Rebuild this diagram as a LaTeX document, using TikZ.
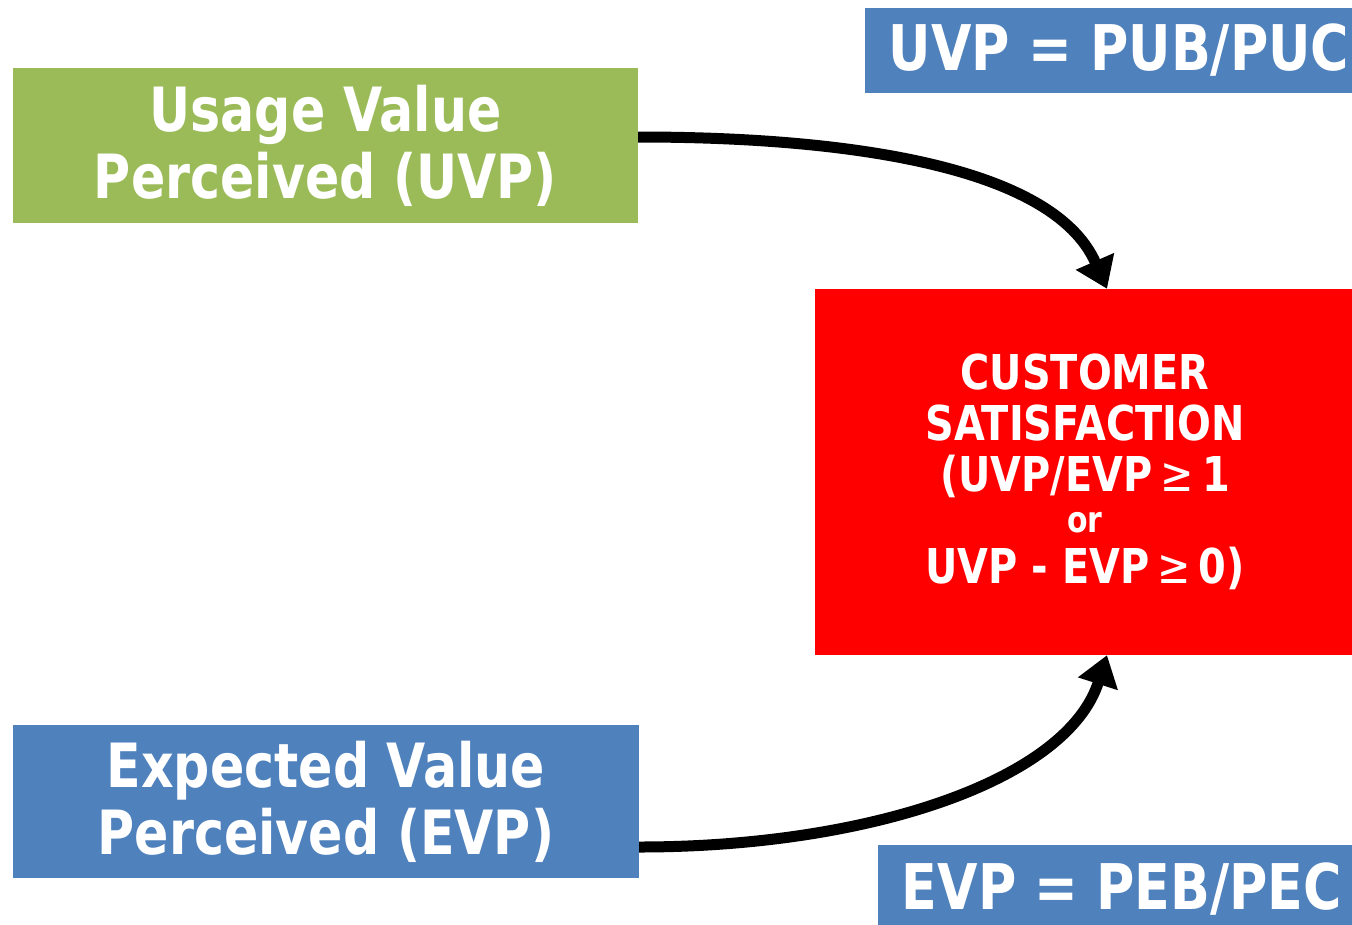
\documentclass[tikz,border=0pt]{standalone}
\usepackage{fontspec}
\usetikzlibrary{arrows.meta}
\newfontfamily\boxfont{DejaVu Sans}[FakeStretch=0.83]
\definecolor{usagegreen}{HTML}{9BBB59}
\definecolor{officeblue}{HTML}{4F81BD}
\definecolor{satred}{HTML}{FF0000}
\tikzset{
  panel/.style={inner sep=0pt, text=white, align=center,
    font=\boxfont\bfseries\fontsize{61}{67}\selectfont},
  formula/.style={panel, fill=officeblue,
    font=\boxfont\bfseries\fontsize{63}{67}\selectfont},
  flowarrow/.style={line width=11pt, -{Triangle[length=30pt,width=40pt]}}
}
\begin{document}
\begin{tikzpicture}[x=1pt,y=-1pt]
  \useasboundingbox (0,0) rectangle (1352,924);
  \clip (0,0) rectangle (1352,924);

  % input boxes on the left
  \node[panel, fill=usagegreen, minimum width=625pt, minimum height=155pt]
    (uvp) at (325.5,145.5) {Usage Value\\Perceived (UVP)};
  \node[panel, fill=officeblue, minimum width=626pt, minimum height=153pt]
    (evp) at (326,801.5) {Expected Value\\Perceived (EVP)};

  % formula boxes running off the right edge
  \node[formula, minimum width=508pt, minimum height=85pt]
    (uvpdef) at (1119,50.5) {UVP = PUB/PUC};
  \node[formula, minimum width=488pt, minimum height=88pt]
    (evpdef) at (1122,889) {EVP = PEB/PEC};

  % result box
  \node[panel, fill=satred, minimum width=540pt, minimum height=366pt,
        font=\boxfont\bfseries\fontsize{48}{51}\selectfont]
    (cs) at (1085,472)
    {CUSTOMER\\SATISFACTION\\(UVP/EVP\,{\mdseries ≥}\,1\\[-10pt]
     {\fontsize{36}{40}\selectfont or}\\
     UVP - EVP\,{\mdseries ≥}\,0)};

  % curved connectors
  \draw[flowarrow] ([yshift=8.5pt]uvp.east)
    .. controls +(200,0) and +(-55,-125) .. ([xshift=22pt]cs.north);
  \draw[flowarrow] ([yshift=-45.5pt]evp.east)
    .. controls +(230,0) and +(-40,125) .. ([xshift=22pt]cs.south);
\end{tikzpicture}
\end{document}
